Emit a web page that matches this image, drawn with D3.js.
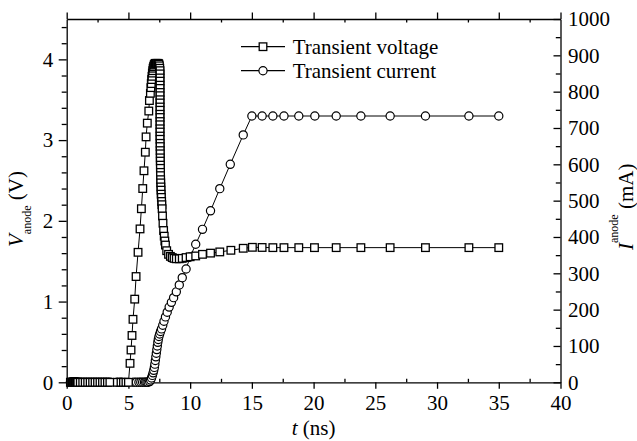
<!DOCTYPE html>
<html>
<head>
<meta charset="utf-8">
<script src="https://cdn.jsdelivr.net/npm/d3@7"></script>
<style>
  body { margin: 0; background: #fff; }
  svg text { font-family: "Liberation Serif", "Times New Roman", serif; fill: #000; }
</style>
</head>
<body>
<svg id="chart" width="637" height="441"></svg>
<script>
// transient voltage (V) vs time (ns)
const voltT = [0.3,0.35,0.4,0.45,0.5,0.55,0.6,0.65,0.7,0.75,0.8,0.85,0.9,1.1,1.3,1.5,1.7,1.9,2.1,2.3,2.5,2.7,2.9,3.1,3.3,3.5,4.1,4.4,4.6,4.8,5.0,
  5.13,5.21,5.29,5.37,5.51,5.62,5.78,5.94,6.05,6.16,6.26,6.37,6.43,6.53,6.65,6.70,6.78,
  6.82,6.85,6.88,6.91,6.94,6.97,7.0,7.04,7.08,7.12,7.17,7.22,7.27,7.32,7.37,7.42,7.47,7.51,7.54,
  7.56,7.56,7.56,7.56,7.56,7.56,7.56,7.56,7.56,7.56,7.56,7.56,7.56,7.56,7.56,7.56,7.56,7.56,7.56,7.56,7.57,7.57,7.57,7.58,7.58,7.58,
  7.59,7.59,7.60,7.60,7.61,7.62,7.63,7.64,7.65,7.67,7.69,7.71,7.73,
  7.76,7.8,7.85,7.9,7.95,8.0,8.1,8.25,8.4,8.55,8.7,8.88,9.12,9.36,9.67,10.0,10.45,11.0,11.65,12.4,13.3,14.3,15.04,15.83,16.7,17.6,18.8,20.07,21.83,23.83,26.2,29.06,32.58,35.0];
const voltV = [0,0,0,0,0,0,0,0,0,0,0,0,0,0,0,0,0,0,0,0,0,0,0,0,0,0,0,0,0,0,0,
  0.235,0.40,0.58,0.78,1.03,1.31,1.61,1.90,2.15,2.40,2.62,2.85,3.04,3.21,3.36,3.49,3.58,
  3.65,3.70,3.75,3.79,3.83,3.86,3.89,3.91,3.93,3.94,3.95,3.95,3.95,3.95,3.95,3.95,3.94,3.92,3.89,
  3.86,3.82,3.77,3.73,3.68,3.64,3.59,3.55,3.50,3.46,3.41,3.37,3.32,3.28,3.23,3.19,3.14,3.10,3.05,3.01,2.96,2.92,2.87,2.83,2.78,2.74,
  2.69,2.65,2.60,2.56,2.51,2.47,2.42,2.38,2.33,2.29,2.24,2.20,2.15,
  2.06,1.97,1.88,1.81,1.75,1.70,1.63,1.585,1.56,1.545,1.535,1.53,1.53,1.535,1.545,1.555,1.565,1.585,1.60,1.615,1.635,1.66,1.672,1.67,1.668,1.668,1.668,1.668,1.668,1.668,1.668,1.668,1.668,1.668];

// transient current (mA) vs time (ns)
const currT = [0.3,0.35,0.4,0.45,0.5,0.55,0.6,0.65,0.7,0.75,0.8,0.85,0.9,1.1,1.3,1.5,1.7,1.9,2.1,2.3,2.5,2.7,2.9,3.1,3.3,3.5,4.1,4.4,
  5.45,5.65,5.85,6.0,6.15,6.3,6.4,6.5,6.6,
  6.72,6.8,6.87,6.94,7.0,7.05,7.1,7.14,7.18,7.22,7.26,7.3,7.34,7.38,7.42,7.47,7.53,7.6,7.68,7.78,7.88,8.0,8.14,8.3,8.48,8.66,8.88,9.12,9.36,9.67,
  10.0,10.45,11.0,11.65,12.4,13.25,14.3,15.0,15.83,16.7,17.6,18.8,20.1,21.83,23.83,26.2,29.06,32.58,35.0];
const currI = [0,0,0,0,0,0,0,0,0,0,0,0,0,0,0,0,0,0,0,0,0,0,0,0,0,0,0,0,
  0,0,0,0,0,0,0,0,0,
  2,6,12,19,26,33,41,50,60,70,80,90,100,110,118,126,133,140,147,157,168,180,193,207,220,233,249,268,288,312,
  345,380,421,472,533,600,681,733,733,733,733,733,733,733,733,733,733,733,733,733];

const xMajor = [0,5,10,15,20,25,30,35,40];
const vMajor = [0,1,2,3,4];
const iMajor = [0,100,200,300,400,500,600,700,800,900,1000];

const legendLabels = ['Transient voltage', 'Transient current'];

const svg = d3.select('#chart');
const x = d3.scaleLinear().domain([0, 40]).range([66.7, 560.5]);
const yV = d3.scaleLinear().domain([0, 4.5]).range([382.3, 19]);
const yI = d3.scaleLinear().domain([0, 1000]).range([382.3, 19]);

const xMinor = d3.range(2.5, 40, 5);
const vMinor = d3.range(0.2, 4.5, 0.2).filter(v => Math.abs(v - Math.round(v)) > 0.01);
const iMinor = d3.range(50, 1000, 100);

function styleAxis(g, keepDomain) {
  g.attr('font-size', 21).attr('font-family', '"Liberation Serif", serif');
  g.selectAll('line').attr('stroke', '#000').attr('stroke-width', 1.3);
  g.selectAll('.domain').attr('stroke', '#000').attr('stroke-width', 1.3);
  if (!keepDomain) g.select('.domain').remove();
}

// bottom
svg.append('g').attr('transform', 'translate(0,382.3)')
  .call(d3.axisBottom(x).tickValues(xMajor).tickSize(6.5).tickPadding(6).tickSizeOuter(0))
  .call(g => styleAxis(g, true));
svg.append('g').attr('transform', 'translate(0,382.3)')
  .call(d3.axisBottom(x).tickValues(xMinor).tickSize(-3.5).tickFormat(''))
  .call(g => styleAxis(g, false));
// top
svg.append('g').attr('transform', 'translate(0,19)')
  .call(d3.axisTop(x).tickValues(xMajor).tickSize(6.5).tickFormat('').tickSizeOuter(0))
  .call(g => styleAxis(g, true));
svg.append('g').attr('transform', 'translate(0,19)')
  .call(d3.axisTop(x).tickValues(xMinor).tickSize(-3.5).tickFormat(''))
  .call(g => styleAxis(g, false));
// left
svg.append('g').attr('transform', 'translate(66.7,0)')
  .call(d3.axisLeft(yV).tickValues(vMajor).tickSize(8).tickPadding(5.5).tickFormat(d3.format('d')).tickSizeOuter(0))
  .call(g => styleAxis(g, true));
svg.append('g').attr('transform', 'translate(66.7,0)')
  .call(d3.axisLeft(yV).tickValues(vMinor).tickSize(5).tickFormat(''))
  .call(g => styleAxis(g, false));
// right
svg.append('g').attr('transform', 'translate(560.5,0)')
  .call(d3.axisRight(yI).tickValues(iMajor).tickSize(-7).tickPadding(7.5).tickFormat(d3.format('d')).tickSizeOuter(0))
  .call(g => styleAxis(g, true));
svg.append('g').attr('transform', 'translate(560.5,0)')
  .call(d3.axisRight(yI).tickValues(iMinor).tickSize(-4.7).tickFormat(''))
  .call(g => styleAxis(g, false));

// axis titles
const xt = svg.append('text').attr('x', 313.6).attr('y', 435).attr('text-anchor', 'middle').attr('font-size', 21);
xt.append('tspan').attr('font-style', 'italic').text('t');
xt.append('tspan').text(' (ns)');

const lt = svg.append('text').attr('transform', 'translate(23.3,247) rotate(-90)').attr('font-size', 21);
lt.append('tspan').attr('font-style', 'italic').text('V');
lt.append('tspan').attr('font-size', 12).attr('dy', 8).text('anode');
lt.append('tspan').attr('dy', -8).text(' (V)');

const rt = svg.append('text').attr('transform', 'translate(633,250) rotate(-90)').attr('font-size', 21);
rt.append('tspan').attr('font-style', 'italic').text('I');
rt.append('tspan').attr('font-size', 12).attr('dy', -15).text('anode');
rt.append('tspan').attr('dy', 15).text(' (mA)');

// series
const volt = voltT.map((t, i) => ({ t, v: voltV[i] }));
const curr = currT.map((t, i) => ({ t, v: currI[i] }));

function square(sel, cx, cy) {
  sel.append('rect').attr('x', cx - 3.8).attr('y', cy - 3.8).attr('width', 7.6).attr('height', 7.6)
    .attr('fill', '#fff').attr('stroke', '#000').attr('stroke-width', 1.3);
}
function circle(sel, cx, cy) {
  sel.append('circle').attr('cx', cx).attr('cy', cy).attr('r', 4.1)
    .attr('fill', '#fff').attr('stroke', '#000').attr('stroke-width', 1.2);
}

const gc = svg.append('g');
gc.append('path').datum(curr)
  .attr('d', d3.line().x(d => x(d.t)).y(d => yI(d.v)))
  .attr('fill', 'none').attr('stroke', '#000').attr('stroke-width', 1);
curr.forEach(d => circle(gc, x(d.t), yI(d.v)));

const gv = svg.append('g');
gv.append('path').datum(volt)
  .attr('d', d3.line().x(d => x(d.t)).y(d => yV(d.v)))
  .attr('fill', 'none').attr('stroke', '#000').attr('stroke-width', 1);
volt.forEach(d => square(gv, x(d.t), yV(d.v)));

// legend
const lg = svg.append('g');
[46.7, 70.7].forEach((ly, i) => {
  lg.append('line').attr('x1', 241).attr('x2', 285).attr('y1', ly).attr('y2', ly)
    .attr('stroke', '#000').attr('stroke-width', 1.2);
  if (i === 0) square(lg, 263, ly); else circle(lg, 263, ly);
  lg.append('text').attr('x', 292.7).attr('y', ly + 6.8).attr('font-size', 21).text(legendLabels[i]);
});
</script>
</body>
</html>
